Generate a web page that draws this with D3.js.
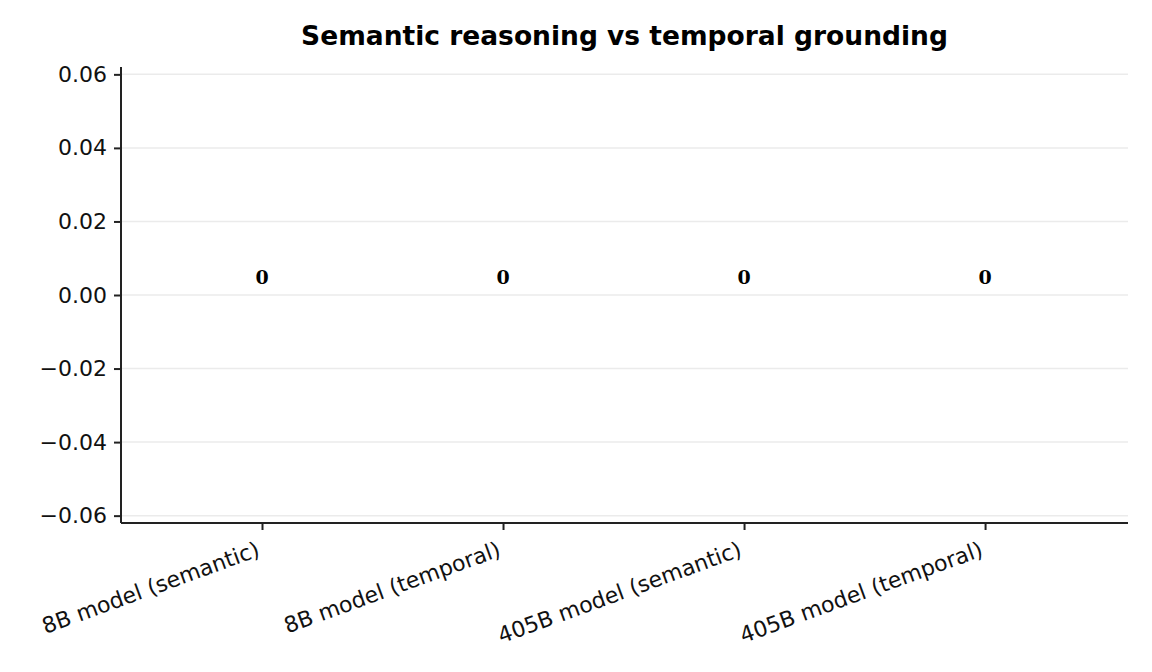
<!DOCTYPE html>
<html>
<head>
<meta charset="utf-8">
<script src="https://cdn.jsdelivr.net/npm/d3@7"></script>
<style>
  body { margin: 0; background: #fff; }
  text { font-family: "DejaVu Sans", sans-serif; }
</style>
</head>
<body>
<div id="chart"></div>
<script>
// data
var categories = ['8B model (semantic)', '8B model (temporal)', '405B model (semantic)', '405B model (temporal)'];
var values = [0, 0, 0, 0];
var yTicks = [-0.06, -0.04, -0.02, 0.00, 0.02, 0.04, 0.06];

var W = 1152, H = 672;
var mLeft = 121, mRight = 1128, mTop = 67, mBottom = 523;

var svg = d3.select('#chart').append('svg').attr('width', W).attr('height', H);

var x = d3.scaleLinear().domain([-0.585, 3.593]).range([mLeft, mRight]);
var y = d3.scaleLinear().domain([-0.062, 0.062]).range([mBottom, mTop]);

// grid
svg.append('g').selectAll('line').data(yTicks).enter().append('line')
  .attr('x1', mLeft).attr('x2', mRight)
  .attr('y1', d => y(d)).attr('y2', d => y(d))
  .style('stroke', '#ebebeb').style('stroke-width', 1.5);

// bars (all zero height)
svg.append('g').selectAll('rect').data(values).enter().append('rect')
  .attr('x', (d, i) => x(i - 0.3)).attr('width', x(0.6) - x(0))
  .attr('y', d => y(Math.max(0, d))).attr('height', d => Math.abs(y(0) - y(d)))
  .style('fill', '#4c72b0');

// y axis
var yAxis = svg.append('g').attr('transform', 'translate(' + mLeft + ',0)')
  .call(d3.axisLeft(y).tickValues(yTicks).tickFormat(d3.format('.2f')).tickSize(7).tickPadding(7));
yAxis.select('.domain').attr('d', 'M0,' + mTop + 'V' + mBottom).style('stroke', '#222').style('stroke-width', 2);
yAxis.selectAll('.tick line').style('stroke', '#222').style('stroke-width', 2);
yAxis.selectAll('.tick text').style('font-size', '22px').style('fill', '#111').attr('font-family', 'DejaVu Sans');

// x axis
var xAxis = svg.append('g').attr('transform', 'translate(0,' + mBottom + ')')
  .call(d3.axisBottom(x).tickValues(d3.range(categories.length)).tickFormat(i => categories[i]).tickSize(7));
xAxis.select('.domain').attr('d', 'M' + mLeft + ',0H' + mRight).style('stroke', '#222').style('stroke-width', 2);
xAxis.selectAll('.tick line').style('stroke', '#222').style('stroke-width', 2);
xAxis.selectAll('.tick text')
  .attr('y', 0).attr('dy', '0.75em')
  .attr('transform', 'translate(-7,17) rotate(-20)')
  .style('text-anchor', 'end').style('font-size', '22px').style('fill', '#111')
  .attr('font-family', 'DejaVu Sans');

// value labels
svg.append('g').selectAll('text').data(values).enter().append('text')
  .attr('x', (d, i) => x(i)).attr('y', d => y(d) - 11)
  .attr('text-anchor', 'middle')
  .style('font-family', '"DejaVu Serif", serif')
  .style('font-size', '19px').style('font-weight', 'bold').style('fill', '#000')
  .text(d => d3.format('d')(d));

// title
svg.append('text').attr('x', (mLeft + mRight) / 2).attr('y', 45)
  .attr('text-anchor', 'middle')
  .style('font-size', '26.5px').style('font-weight', 'bold')
  .text('Semantic reasoning vs temporal grounding');
</script>
</body>
</html>
